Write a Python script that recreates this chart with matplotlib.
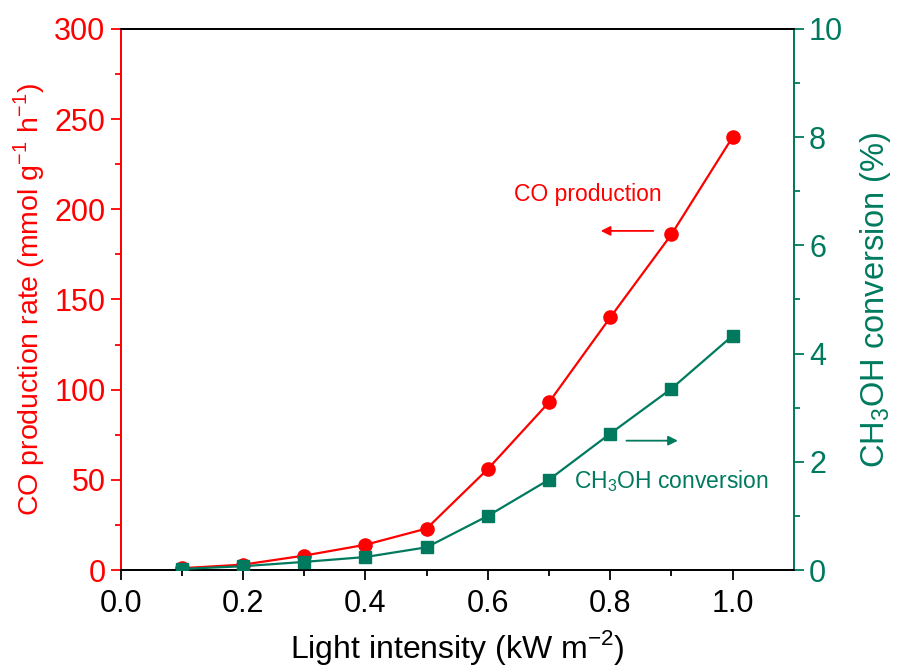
import matplotlib.pyplot as plt
import numpy as np

plt.rcParams['font.family'] = ['Liberation Sans', 'DejaVu Sans']
plt.rcParams['mathtext.fontset'] = 'custom'
plt.rcParams['mathtext.rm'] = 'Liberation Sans'

RED = '#ff0000'
GREEN = '#007a5e'

intensity = [0.1, 0.2, 0.3, 0.4, 0.5, 0.6, 0.7, 0.8, 0.9, 1.0]
co_rate = [1, 3, 8, 14, 23, 56, 93, 140, 186, 240]
ch3oh_conv = [0.02, 0.07, 0.15, 0.24, 0.42, 1.0, 1.67, 2.52, 3.35, 4.33]

fig = plt.figure(figsize=(9.01, 6.71), dpi=100)
ax1 = fig.add_axes([0.134, 0.1505, 0.747, 0.8065])
ax2 = ax1.twinx()

ax1.plot(intensity, co_rate, '-o', color=RED, lw=1.6, ms=9.5, zorder=3)
ax2.plot(intensity, ch3oh_conv, '-s', color=GREEN, lw=1.6, ms=8.5, zorder=3)

ax1.set_xlim(0, 1.1)
ax1.set_ylim(0, 300)
ax2.set_ylim(0, 10)
ax1.set_xticks(np.arange(0, 1.01, 0.2))
ax1.set_xticks(np.arange(0.1, 1.1, 0.2), minor=True)
ax1.set_yticks(np.arange(0, 301, 50))
ax1.set_yticks(np.arange(25, 300, 50), minor=True)
ax2.set_yticks(np.arange(0, 11, 2))
ax2.set_yticks(np.arange(1, 10, 2), minor=True)

ax1.set_xticklabels(['%.1f' % v for v in np.arange(0, 1.01, 0.2)])

# axis colouring
ax1.spines['left'].set_color(RED)
ax2.spines['left'].set_color(RED)
ax2.spines['right'].set_color(GREEN)
ax1.spines['right'].set_color(GREEN)
for sp in ('left', 'right', 'top', 'bottom'):
    ax1.spines[sp].set_linewidth(1.3)
    ax2.spines[sp].set_linewidth(1.3)

ax1.tick_params(axis='x', which='major', direction='out', length=7, width=1.3, labelsize=22, pad=7)
ax1.tick_params(axis='x', which='minor', direction='out', length=4, width=1.3)
ax1.tick_params(axis='y', which='major', direction='out', length=7, width=1.3, color=RED, labelcolor=RED, labelsize=22, pad=4)
ax1.tick_params(axis='y', which='minor', direction='out', length=4, width=1.3, color=RED)
ax2.tick_params(axis='y', which='major', direction='out', length=7, width=1.3, color=GREEN, labelcolor=GREEN, labelsize=22, pad=4)
ax2.tick_params(axis='y', which='minor', direction='out', length=4, width=1.3, color=GREEN)

ax1.set_xlabel('Light intensity (kW m$^{-2}$)', fontsize=23, labelpad=6)
ax1.set_ylabel('CO production rate (mmol g$^{-1}$ h$^{-1}$)', fontsize=20.5, color=RED, labelpad=5)
ax2.set_ylabel('CH$_3$OH conversion (%)', fontsize=23.5, color=GREEN, labelpad=11)

# series labels with arrows pointing to their axes
ax1.annotate('', xy=(0.78, 188), xytext=(0.875, 188),
             arrowprops=dict(arrowstyle='-|>', color=RED, lw=1.3, mutation_scale=14))
ax1.text(0.764, 208, 'CO production', color=RED, fontsize=16.5, ha='center', va='center')
ax2.annotate('', xy=(0.915, 2.39), xytext=(0.822, 2.39),
             arrowprops=dict(arrowstyle='-|>', color=GREEN, lw=1.3, mutation_scale=14))
ax2.text(0.9, 1.65, 'CH$_3$OH conversion', color=GREEN, fontsize=16.5, ha='center', va='center')

fig.savefig('out.png', dpi=100)
